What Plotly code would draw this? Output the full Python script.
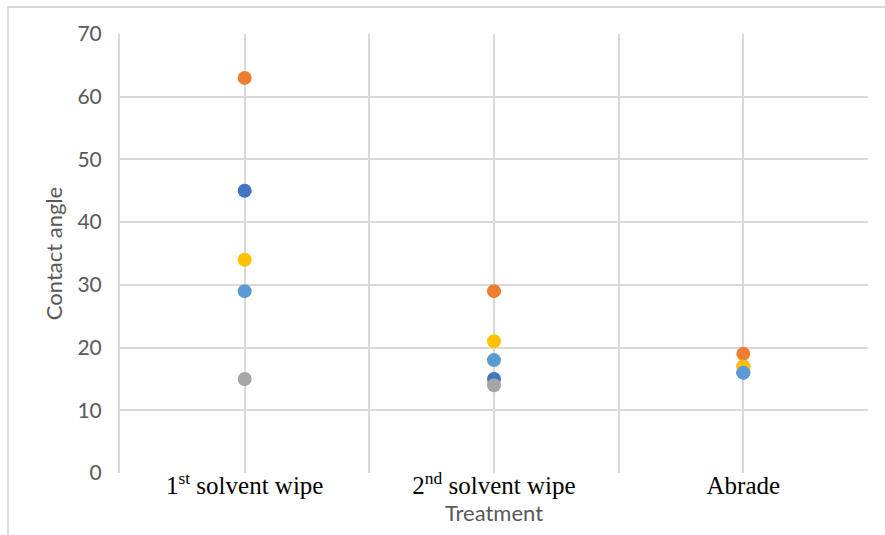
import plotly.graph_objects as go

categories = ["1<sup>st</sup> solvent wipe", "2<sup>nd</sup> solvent wipe", "Abrade"]
series_names = ["Series1", "Series2", "Series3", "Series4", "Series5"]
series_colors = ["#4472C4", "#ED7D31", "#A5A5A5", "#FFC000", "#5B9BD5"]
s1 = [45, 15, 16]
s2 = [63, 29, 19]
s3 = [15, 14, 17]
s4 = [34, 21, 17]
s5 = [29, 18, 16]
series_values = [s1, s2, s3, s4, s5]
y_ticks = [0, 10, 20, 30, 40, 50, 60, 70]

x_pos = list(range(len(categories)))

fig = go.Figure()
for name, color, vals in zip(series_names, series_colors, series_values):
    fig.add_trace(go.Scatter(
        x=x_pos, y=vals, mode="markers", name=name,
        marker=dict(color=color, size=14, line=dict(width=0)),
        showlegend=False,
    ))

grid = "#D9D9D9"
fig.update_layout(
    width=885, height=535,
    margin=dict(l=120, r=17, t=34, b=62),
    paper_bgcolor="white", plot_bgcolor="white",
    xaxis=dict(
        range=[-0.5, len(categories) - 0.5],
        tickvals=x_pos, ticktext=categories,
        tickfont=dict(family="Liberation Serif", size=25, color="black"),
        showgrid=True, gridcolor=grid, gridwidth=2,
        minor=dict(tickvals=[i - 0.5 for i in range(len(categories) + 1)],
                   showgrid=True, gridcolor=grid, gridwidth=2, ticklen=0),
        zeroline=False, showline=False, ticks="",
        ticklabelstandoff=-5,
        title=dict(text="Treatment", font=dict(family="Lato", size=22, color="#595959"), standoff=0),
        fixedrange=True,
    ),
    yaxis=dict(
        range=[0, 70], tickvals=y_ticks,
        tickfont=dict(family="Lato", size=21, color="#595959"),
        showgrid=True, gridcolor=grid, gridwidth=2,
        zeroline=False, showline=True, linecolor=grid, linewidth=2,
        ticks="", ticklabelstandoff=12,
        title=dict(text="Contact angle", font=dict(family="Lato", size=22, color="#595959"), standoff=9),
    ),
    shapes=[dict(type="rect", xref="paper", yref="paper",
                 x0=-112/748, x1=(885 - 120 + 5) / 748, y0=-100/439, y1=1 + 27/439,
                 line=dict(color=grid, width=2), fillcolor="rgba(0,0,0,0)", layer="below")],
)

fig.write_html("out.html")
